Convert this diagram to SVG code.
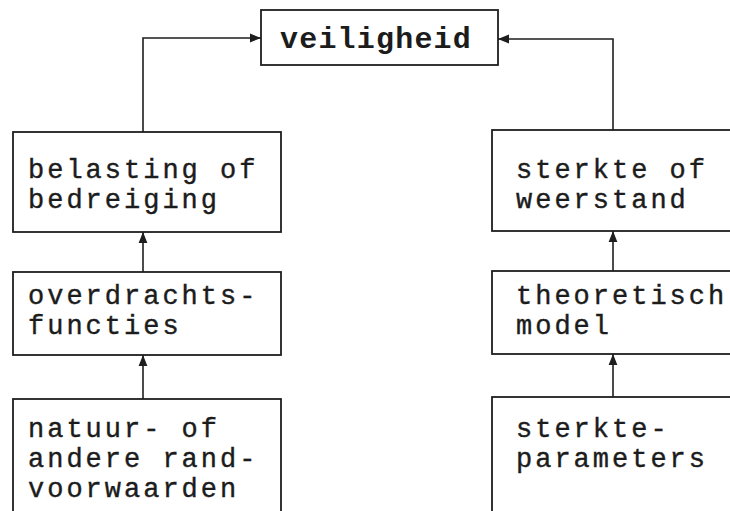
<svg xmlns="http://www.w3.org/2000/svg" width="730" height="511" viewBox="0 0 730 511">
  <defs>
    <marker id="arrow" viewBox="0 0 10 10" refX="10" refY="5" markerWidth="11" markerHeight="11" markerUnits="userSpaceOnUse" orient="auto">
      <path d="M0,1 L10,5 L0,9 Z" fill="#1e1e1e"/>
    </marker>
  </defs>
  <style>
    .box { fill: #ffffff; stroke: #1e1e1e; stroke-width: 1.8; }
    .lbl { font-family: "Liberation Mono", "Courier New", monospace; font-size: 27px; letter-spacing: 3px; fill: #1c1c1c; stroke: #1c1c1c; stroke-width: 0.4; }
    .title { font-size: 30px; letter-spacing: 1.2px; font-weight: bold; stroke-width: 0; }
    .wire { fill: none; stroke: #1e1e1e; stroke-width: 1.6; }
  </style>
  <rect width="730" height="511" fill="#ffffff"/>

  <g id="connectors">
    <path class="wire" d="M143,132 V38 H261" marker-end="url(#arrow)"/>
    <path class="wire" d="M613,130 V39 H498" marker-end="url(#arrow)"/>
    <path class="wire" d="M143,272 V232" marker-end="url(#arrow)"/>
    <path class="wire" d="M143,399 V355" marker-end="url(#arrow)"/>
    <path class="wire" d="M613,271 V231" marker-end="url(#arrow)"/>
    <path class="wire" d="M613,397 V354" marker-end="url(#arrow)"/>
  </g>

  <g id="veiligheid">
    <rect class="box" x="261" y="10" width="237" height="55"/>
    <text class="lbl title" x="280" y="48">veiligheid</text>
  </g>

  <g id="belasting">
    <rect class="box" x="13" y="132" width="268" height="100"/>
    <text class="lbl" x="28" y="178">belasting of</text>
    <text class="lbl" x="28" y="208">bedreiging</text>
  </g>

  <g id="overdrachtsfuncties">
    <rect class="box" x="13" y="272" width="268" height="83"/>
    <text class="lbl" x="28" y="304">overdrachts-</text>
    <text class="lbl" x="28" y="334">functies</text>
  </g>

  <g id="randvoorwaarden">
    <rect class="box" x="13" y="399" width="268" height="130"/>
    <text class="lbl" x="28" y="437">natuur- of</text>
    <text class="lbl" x="28" y="467">andere rand-</text>
    <text class="lbl" x="28" y="497">voorwaarden</text>
  </g>

  <g id="sterkte">
    <rect class="box" x="492" y="130" width="260" height="101"/>
    <text class="lbl" x="516" y="178">sterkte of</text>
    <text class="lbl" x="516" y="208">weerstand</text>
  </g>

  <g id="model">
    <rect class="box" x="492" y="271" width="260" height="83"/>
    <text class="lbl" x="516" y="304">theoretisch</text>
    <text class="lbl" x="516" y="334">model</text>
  </g>

  <g id="parameters">
    <rect class="box" x="492" y="397" width="260" height="130"/>
    <text class="lbl" x="516" y="437">sterkte-</text>
    <text class="lbl" x="516" y="467">parameters</text>
  </g>
</svg>
